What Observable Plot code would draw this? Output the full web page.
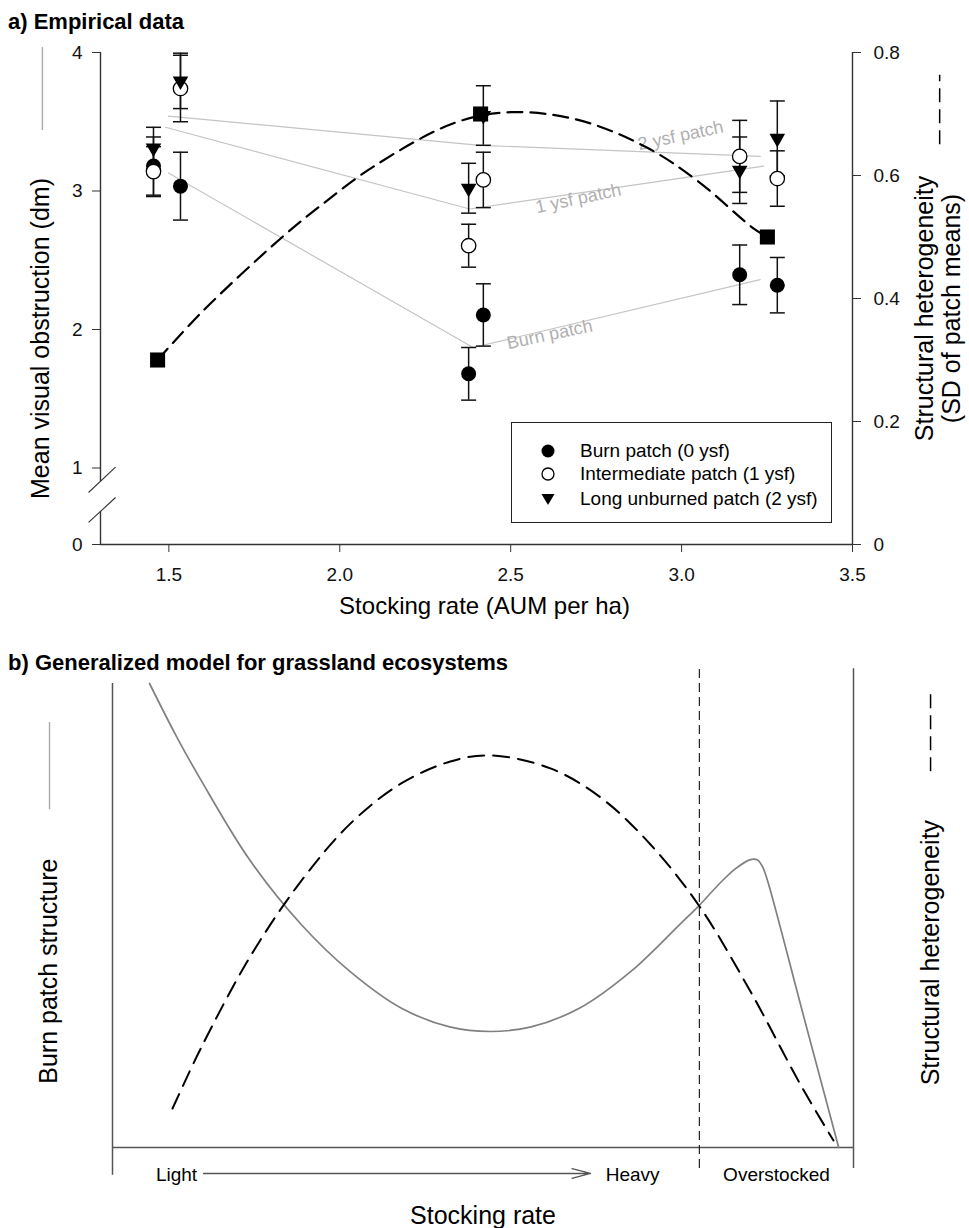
<!DOCTYPE html>
<html><head><meta charset="utf-8">
<script src="https://cdn.jsdelivr.net/npm/d3@7"></script>
<script src="https://cdn.jsdelivr.net/npm/@observablehq/plot@0.6"></script>
<style>
body{margin:0;background:#fff;font-family:"Liberation Sans",Arial,Helvetica,sans-serif;}
#wrap{position:relative;width:969px;height:1228px;overflow:hidden;background:#fff}
#wrap svg.panel{position:absolute;left:0;}
.title{position:absolute;left:8px;font-weight:bold;font-size:22px;color:#000;white-space:nowrap;line-height:1}
#legend{position:absolute;left:511px;top:422px;width:321px;height:101px;box-sizing:border-box;border:1.5px solid #222;background:#fff;font-size:19px;color:#000}
#legend .row{position:absolute;left:0;height:24px;line-height:24px;white-space:nowrap}
#legend .row svg{position:absolute;left:26px;top:2px}
#legend .row span{position:absolute;left:68px;top:0}
</style>
</head><body>
<div id="wrap"></div>
<script>
// ---------- data: panel a (empirical) ----------
const stockingRate = [1.455, 1.534, 2.377, 2.42, 3.17, 3.28];
const burnMean = [3.18, 3.035, 1.68, 2.105, 2.395, 2.32];
const burnSE   = [0.21, 0.245, 0.19, 0.225, 0.215, 0.20];
const intMean  = [3.14, 3.74, 2.605, 3.08, 3.25, 3.09];
const intSE    = [0.18, 0.24, 0.155, 0.20, 0.26, 0.20];
const longMean = [3.31, 3.795, 3.02, 3.545, 3.15, 3.38];
const longSE   = [0.15, 0.20, 0.18, 0.215, 0.24, 0.27];
const patchTypes = ["Burn patch (0 ysf)", "Intermediate patch (1 ysf)", "Long unburned patch (2 ysf)"];

const hetRate = [1.467, 2.412, 3.251];
const hetSD = [0.30, 0.70, 0.50];
const hetCurveRate = [1.467, 1.6, 1.832, 1.944, 2.1, 2.333, 2.5, 2.7, 2.9, 3.045, 3.208, 3.251];
const hetCurveSD   = [0.30, 0.38, 0.50, 0.551, 0.615, 0.685, 0.703, 0.69, 0.645, 0.592, 0.515, 0.50];

const trendNames = ["2 ysf patch", "1 ysf patch", "Burn patch"];
const trend2Rate = [1.499, 2.41, 3.23], trend2VO = [3.54, 3.33, 3.25];
const trend1Rate = [1.49, 2.38, 3.24],  trend1VO = [3.46, 2.87, 3.18];
const trend0Rate = [1.499, 2.39, 3.23], trend0VO = [3.13, 1.87, 2.36];

const xTicks = [1.5, 2.0, 2.5, 3.0, 3.5];
const yTicksLeft = [0, 1, 2, 3, 4];
const yTicksRight = [0, 0.2, 0.4, 0.6, 0.8];

// ---------- data: panel b (model) ----------
const modelRate = [5, 8.5, 12, 18.5, 25.5, 32, 39, 45.5, 51, 56.5, 63, 70, 76.5, 79.2, 82, 84, 86, 87, 87.7, 88.4, 93.2, 98];
const burnStructure = [100, 89, 79, 62, 48, 38, 30, 26, 25, 26, 30, 38, 48, 52.2, 57, 60, 62, 62, 60.6, 57.5, 28.7, 0];
const hetModelRate = [8.1, 11.9, 18.6, 25.4, 32.1, 38.9, 45.6, 51, 59.1, 65.9, 72.6, 79.2, 86.1, 92.9, 97.3];
const hetModelLevel = [8.4, 21.3, 41.2, 57.3, 69.8, 78.4, 83.2, 84.5, 81.7, 75.4, 65.3, 52.0, 33.6, 13.4, 1.5];
const heavyThreshold = [79.2];
const rateLabels = ["Light", "Heavy", "Overstocked"];

// ---------- build tables ----------
const obs = [];
stockingRate.forEach((x, i) => {
  obs.push({type: patchTypes[0], x, m: burnMean[i], se: burnSE[i]});
  obs.push({type: patchTypes[1], x, m: intMean[i], se: intSE[i]});
  obs.push({type: patchTypes[2], x, m: longMean[i], se: longSE[i]});
});
const trends = [];
[[trend2Rate, trend2VO], [trend1Rate, trend1VO], [trend0Rate, trend0VO]].forEach(([xs, ys], k) =>
  xs.forEach((x, i) => trends.push({name: trendNames[k], x, y: ys[i]})));
const hetPts = hetRate.map((x, i) => ({x, y: hetSD[i]}));
const hetCurve = hetCurveRate.map((x, i) => ({x, y: hetCurveSD[i]}));
const modelBurn = modelRate.map((x, i) => ({x, y: burnStructure[i]}));
const modelHet = hetModelRate.map((x, i) => ({x, y: hetModelLevel[i]}));

const FONT = '"Liberation Sans", Arial, Helvetica, sans-serif';
const AX = "#333";
const baseStyle = {fontFamily: FONT, fontSize: "19px", color: "#111", background: "transparent", overflow: "visible"};
const capSymbol = {draw(ctx) { ctx.moveTo(-7.5, 0); ctx.lineTo(7.5, 0); }};

const wrap = document.getElementById("wrap");
function place(svg, top) { svg.classList.add("panel"); svg.style.top = top + "px"; svg.style.position = "absolute"; wrap.appendChild(svg); }

// ---------- panel a, left scale ----------
const plotA = Plot.plot({
  width: 969, height: 630,
  marginLeft: 100, marginRight: 117, marginTop: 52, marginBottom: 86,
  x: {domain: [1.3, 3.5]},
  y: {type: "linear", domain: [0, 1, 4], range: [544, 467.5, 52]},
  style: baseStyle,
  marks: [
    Plot.ruleX([1.3], {y1: 4, y2: 0.824, stroke: AX, strokeWidth: 1.4}),
    Plot.ruleX([1.3], {y1: 0.431, y2: 0, stroke: AX, strokeWidth: 1.4}),
    Plot.ruleY([0], {x1: 1.3, x2: 3.5, stroke: AX, strokeWidth: 1.4}),
    Plot.link([{x1: 1.265, y1: 0.68, x2: 1.344, y2: 1.007}, {x1: 1.265, y1: 0.288, x2: 1.344, y2: 0.614}],
      {x1: "x1", y1: "y1", x2: "x2", y2: "y2", stroke: AX, strokeWidth: 1.1}),
    Plot.axisX({ticks: xTicks, tickFormat: d3.format(".1f"), tickSize: 8, tickPadding: 15, label: null, stroke: AX, fontSize: 19}),
    Plot.axisY({ticks: yTicksLeft, tickFormat: d3.format("d"), tickSize: 8, tickPadding: 10, label: null, stroke: AX, fontSize: 19}),
    Plot.line(trends, {x: "x", y: "y", z: "name", stroke: "#c4c4c4", strokeWidth: 1.2}),
    Plot.text([{t: trendNames[0], x: 2.997, y: 3.40}, {t: trendNames[1], x: 2.698, y: 2.946}, {t: trendNames[2], x: 2.614, y: 1.964}],
      {x: "x", y: "y", text: "t", rotate: -12, fill: "#b0b0b0", fontSize: 18}),
    Plot.ruleX(obs, {x: "x", y1: d => d.m - d.se, y2: d => d.m + d.se, stroke: "#111", strokeWidth: 1.5}),
    Plot.dot(obs, {x: "x", y: d => d.m + d.se, symbol: capSymbol, fill: "none", stroke: "#111", strokeWidth: 1.5}),
    Plot.dot(obs, {x: "x", y: d => d.m - d.se, symbol: capSymbol, fill: "none", stroke: "#111", strokeWidth: 1.5}),
    Plot.dot(obs.filter(d => d.type === patchTypes[0]), {x: "x", y: "m", r: 7.5, fill: "#000", stroke: "none"}),
    Plot.dot(obs.filter(d => d.type === patchTypes[1]), {x: "x", y: "m", r: 7.2, fill: "#fff", stroke: "#000", strokeWidth: 1.3}),
    Plot.dot(obs.filter(d => d.type === patchTypes[2]), {x: "x", y: "m", symbol: "triangle", r: 5.8, rotate: 180, fill: "#000", stroke: "none"}),
    Plot.text(["Mean visual obstruction (dm)"], {frameAnchor: "left", textAnchor: "middle", dx: -60, dy: 40, rotate: -90, fontSize: 25, fill: "#000"}),
    Plot.ruleX([1.13], {y1: 3.437, y2: 4.036, stroke: "#aaa", strokeWidth: 1.4}),
    Plot.text(["Stocking rate (AUM per ha)"], {frameAnchor: "bottom", textAnchor: "middle", dx: 8, dy: 69, fontSize: 24, fill: "#000"})
  ]
});
place(plotA, 0);

// ---------- panel a, right scale ----------
const plotB = Plot.plot({
  width: 969, height: 630,
  marginLeft: 100, marginRight: 117, marginTop: 52, marginBottom: 86,
  x: {domain: [1.3, 3.5], axis: null},
  y: {domain: [0, 0.8]},
  style: baseStyle,
  marks: [
    Plot.ruleX([3.5], {y1: 0, y2: 0.8, stroke: AX, strokeWidth: 1.4}),
    Plot.axisY({anchor: "right", ticks: yTicksRight, tickFormat: d3.format("~g"), tickSize: 8, tickPadding: 13, label: null, stroke: AX, fontSize: 19}),
    Plot.line(hetCurve, {x: "x", y: "y", curve: "catmull-rom", stroke: "#000", strokeWidth: 2.2, strokeDasharray: "15,8"}),
    Plot.dot(hetPts, {x: "x", y: "y", symbol: "square", r: 8.5, fill: "#000", stroke: "none"}),
    Plot.text(["Structural heterogeneity"], {frameAnchor: "right", textAnchor: "middle", dx: 72, dy: 10, rotate: -90, fontSize: 25, fill: "#000"}),
    Plot.text(["(SD of patch means)"], {frameAnchor: "right", textAnchor: "middle", dx: 99, dy: 10, rotate: -90, fontSize: 25, fill: "#000"}),
    Plot.ruleX([3.755], {y1: 0.65, y2: 0.763, stroke: "#000", strokeWidth: 1.5, strokeDasharray: "14,7"})
  ]
});
place(plotB, 0);

// ---------- panel b, conceptual model ----------
const plotC = Plot.plot({
  width: 969, height: 588,
  marginLeft: 112, marginRight: 116, marginTop: 43, marginBottom: 81,
  x: {domain: [0, 100], axis: null},
  y: {domain: [0, 100], axis: null},
  style: baseStyle,
  marks: [
    Plot.ruleX([0], {y1: -6, y2: 100, stroke: "#555", strokeWidth: 1.5}),
    Plot.ruleX([100], {y1: -4.5, y2: 103.2, stroke: "#555", strokeWidth: 1.5}),
    Plot.ruleY([0], {x1: 0, x2: 100, stroke: "#555", strokeWidth: 1.5}),
    Plot.ruleX(heavyThreshold, {y1: -4.5, y2: 103.2, stroke: "#222", strokeWidth: 1.2, strokeDasharray: "9,5"}),
    Plot.line(modelBurn, {x: "x", y: "y", curve: "catmull-rom", stroke: "#808080", strokeWidth: 1.7}),
    Plot.line(modelHet, {x: "x", y: "y", curve: "catmull-rom", stroke: "#000", strokeWidth: 2, strokeDasharray: "16,9"}),
    Plot.arrow([{x1: 12.3, y1: -5.6, x2: 64.5, y2: -5.6}], {x1: "x1", y1: "y1", x2: "x2", y2: "y2", stroke: "#555", strokeWidth: 1.3, headLength: 22, headAngle: 30}),
    Plot.text([{t: rateLabels[0], x: 8.64}, {t: rateLabels[1], x: 70.2}, {t: rateLabels[2], x: 89.6}],
      {x: "x", y: () => -5.9, text: "t", fontSize: 19, fill: "#000"}),
    Plot.text(["Stocking rate"], {x: () => 50, y: () => -14.7, fontSize: 25, fill: "#000"}),
    Plot.text(["Burn patch structure"], {x: () => -8.6, y: () => 38, rotate: -90, fontSize: 25, fill: "#000"}),
    Plot.ruleX([-8.5], {y1: 72.8, y2: 91.6, stroke: "#aaa", strokeWidth: 1.4}),
    Plot.text(["Structural heterogeneity"], {x: () => 110.5, y: () => 42, rotate: -90, fontSize: 25, fill: "#000"}),
    Plot.ruleX([110.4], {y1: 81, y2: 98, stroke: "#000", strokeWidth: 1.5, strokeDasharray: "14,7"})
  ]
});
place(plotC, 640);

// ---------- titles ----------
const tA = document.createElement("div"); tA.className = "title"; tA.style.top = "11px"; tA.textContent = "a) Empirical data"; wrap.appendChild(tA);
const tB = document.createElement("div"); tB.className = "title"; tB.style.top = "652px"; tB.textContent = "b) Generalized model for grassland ecosystems"; wrap.appendChild(tB);

// ---------- legend ----------
const legend = document.createElement("div"); legend.id = "legend";
const legendRowTop = [16, 39, 64];
const legendSymbols = [
  '<circle cx="10" cy="10" r="6.5" fill="#000"/>',
  '<circle cx="10" cy="10" r="6" fill="#fff" stroke="#000" stroke-width="1.3"/>',
  '<path d="M3.5,5 L16.5,5 L10,16 Z" fill="#000"/>'
];
patchTypes.forEach((name, i) => {
  const row = document.createElement("div"); row.className = "row"; row.style.top = legendRowTop[i] + "px";
  row.innerHTML = '<svg width="20" height="20" viewBox="0 0 20 20">' + legendSymbols[i] + '</svg><span></span>';
  row.querySelector("span").textContent = name;
  legend.appendChild(row);
});
wrap.appendChild(legend);
</script>
</body></html>
